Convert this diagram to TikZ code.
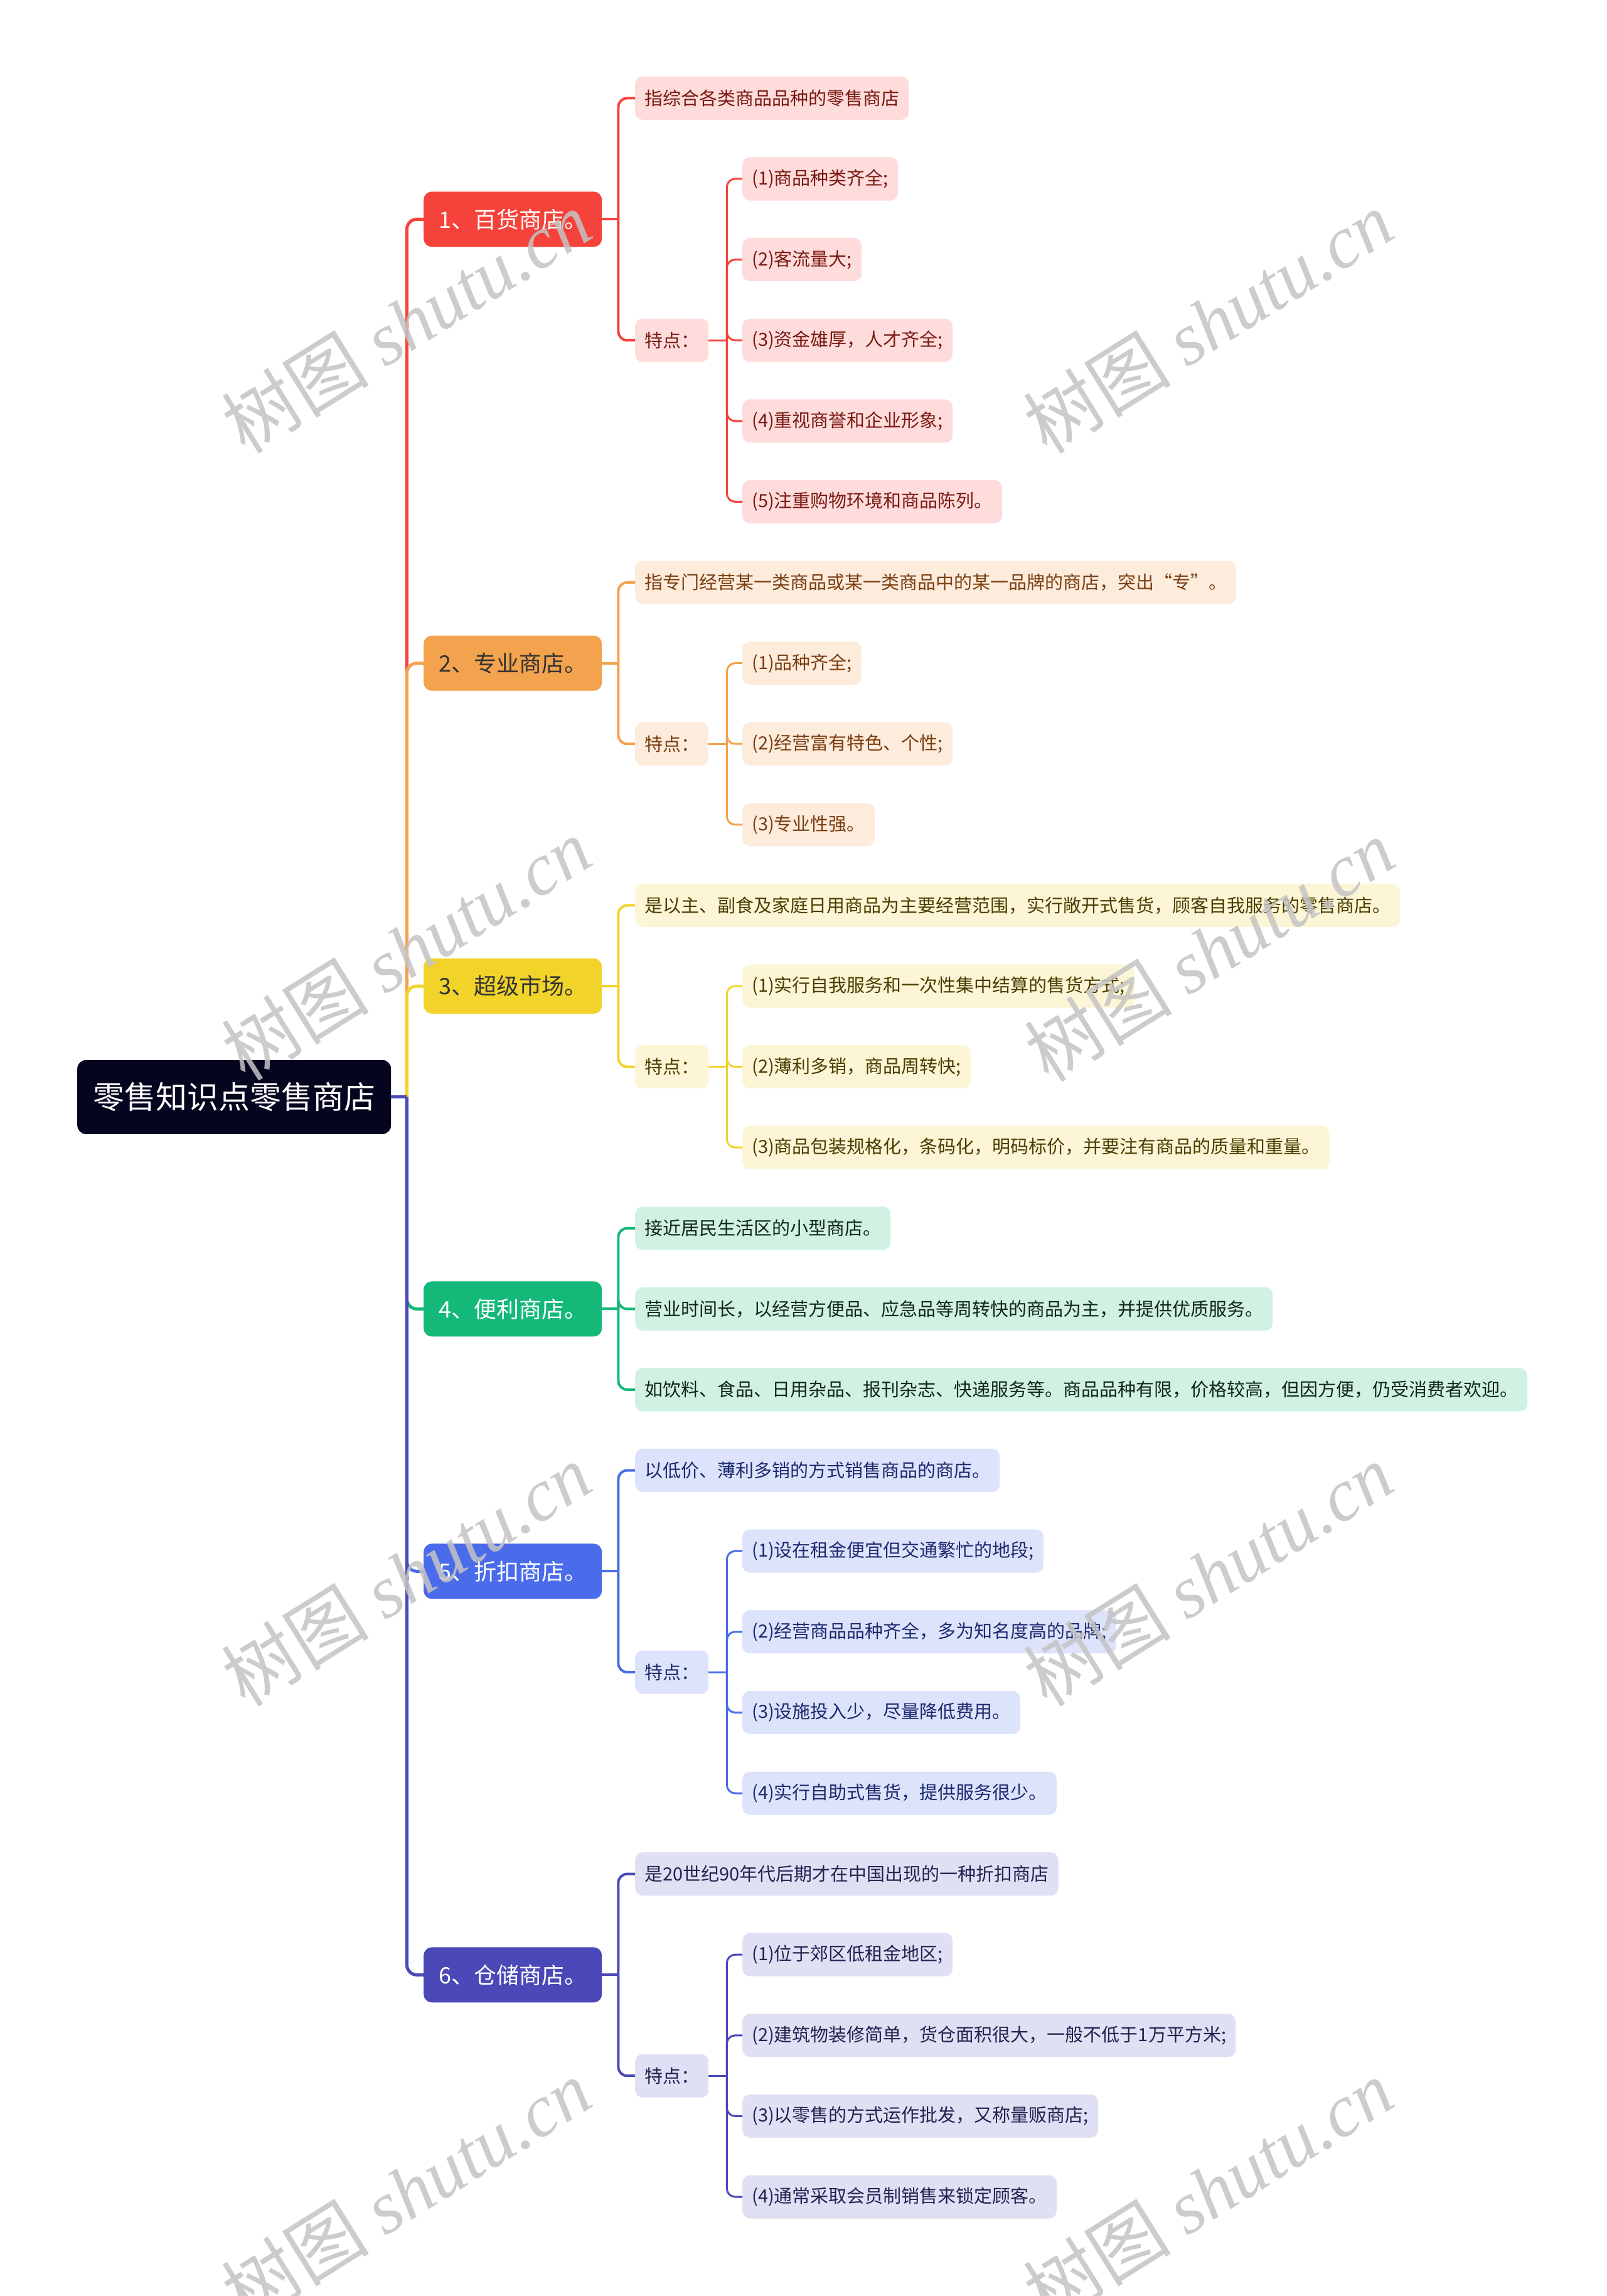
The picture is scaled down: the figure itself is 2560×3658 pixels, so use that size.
\documentclass[tikz,border=0pt]{standalone}
\usepackage{fontspec}
\setmainfont{Noto Sans CJK SC}
\newfontfamily\wmserif{Liberation Serif}
\definecolor{rootc}{HTML}{05051F}
\definecolor{c1}{HTML}{F5433B}
\definecolor{c2}{HTML}{F3A24E}
\definecolor{c3}{HTML}{F1D32A}
\definecolor{c4}{HTML}{14B97A}
\definecolor{c5}{HTML}{4A6CEA}
\definecolor{c6}{HTML}{4B48B8}
\definecolor{f1}{HTML}{FDDCDB}
\definecolor{f2}{HTML}{FDEBDC}
\definecolor{f3}{HTML}{FCF6D6}
\definecolor{f4}{HTML}{D1F2E3}
\definecolor{f5}{HTML}{DCE3FB}
\definecolor{f6}{HTML}{E0E0F4}
\definecolor{t1}{HTML}{7A1812}
\definecolor{t2}{HTML}{7A3E10}
\definecolor{t3}{HTML}{4A3D00}
\definecolor{t4}{HTML}{10261C}
\definecolor{t5}{HTML}{1C2A6E}
\definecolor{t6}{HTML}{222250}
\definecolor{wmc}{HTML}{C4C4C4}
\tikzset{
  rootbox/.style={fill=rootc, text=white, rounded corners=14pt, anchor=west,
    minimum height=118pt, minimum width=500pt, inner xsep=25pt, inner ysep=0pt,
    font=\fontsize{50}{60}\selectfont},
  lone/.style={fill=c#1, rounded corners=13pt, anchor=west, minimum height=88pt,
    minimum width=284pt, inner xsep=18pt, inner ysep=0pt,
    font=\fontsize{36}{42}\selectfont},
  lt/.style={fill=f#1, text=t#1, rounded corners=12pt, anchor=west,
    minimum height=69pt, inner xsep=15pt, inner ysep=0pt,
    font=\fontsize{29}{34}\selectfont},
  trunk/.style={draw=c#1, line width=5pt},
  ltwoline/.style={draw=c#1, line width=4pt},
  lthreeline/.style={draw=c#1, line width=3pt},
  wm/.style={text=wmc, opacity=0.85, rotate=32, font=\fontsize{118}{130}\selectfont}
}
\begin{document}
\begin{tikzpicture}[x=1pt,y=-1pt]
\fill[white] (0,0) rectangle (2560,3658);
\useasboundingbox (0,0) rectangle (2560,3658);

% root
\node[rootbox] (root) at (123,1747.8) {零售知识点零售商店};
\coordinate (rj) at ([xshift=25pt]root.east);

% ---------- branch 1
\node[lone=1, text=white] (n1) at (675,349.3) {1、百货商店。};
\node[lt=1] (n1a) at (1012,156.4) {指综合各类商品品种的零售商店};
\node[lt=1] (n1t) at (1012,542.2) {特点：};
\node[lt=1] (n1t1) at (1183,285.0) {(1)商品种类齐全;};
\node[lt=1] (n1t2) at (1183,413.6) {(2)客流量大;};
\node[lt=1] (n1t3) at (1183,542.2) {(3)资金雄厚，人才齐全;};
\node[lt=1] (n1t4) at (1183,670.8) {(4)重视商誉和企业形象;};
\node[lt=1] (n1t5) at (1183,799.4) {(5)注重购物环境和商品陈列。};

% ---------- branch 2
\node[lone=2, text=black!80] (n2) at (675,1056.6) {2、专业商店。};
\node[lt=2] (n2a) at (1012,928.0) {指专门经营某一类商品或某一类商品中的某一品牌的商店，突出“专”。};
\node[lt=2] (n2t) at (1012,1185.2) {特点：};
\node[lt=2] (n2t1) at (1183,1056.6) {(1)品种齐全;};
\node[lt=2] (n2t2) at (1183,1185.2) {(2)经营富有特色、个性;};
\node[lt=2] (n2t3) at (1183,1313.8) {(3)专业性强。};

% ---------- branch 3
\node[lone=3, text=black!80] (n3) at (675,1571.0) {3、超级市场。};
\node[lt=3] (n3a) at (1012,1442.4) {是以主、副食及家庭日用商品为主要经营范围，实行敞开式售货，顾客自我服务的零售商店。};
\node[lt=3] (n3t) at (1012,1699.6) {特点：};
\node[lt=3] (n3t1) at (1183,1571.0) {(1)实行自我服务和一次性集中结算的售货方式;};
\node[lt=3] (n3t2) at (1183,1699.6) {(2)薄利多销，商品周转快;};
\node[lt=3] (n3t3) at (1183,1828.2) {(3)商品包装规格化，条码化，明码标价，并要注有商品的质量和重量。};

% ---------- branch 4
\node[lone=4, text=white] (n4) at (675,2085.4) {4、便利商店。};
\node[lt=4] (n4a) at (1012,1956.8) {接近居民生活区的小型商店。};
\node[lt=4] (n4b) at (1012,2085.4) {营业时间长，以经营方便品、应急品等周转快的商品为主，并提供优质服务。};
\node[lt=4] (n4c) at (1012,2214.0) {如饮料、食品、日用杂品、报刊杂志、快递服务等。商品品种有限，价格较高，但因方便，仍受消费者欢迎。};

% ---------- branch 5
\node[lone=5, text=white] (n5) at (675,2503.35) {5、折扣商店。};
\node[lt=5] (n5a) at (1012,2342.6) {以低价、薄利多销的方式销售商品的商店。};
\node[lt=5] (n5t) at (1012,2664.1) {特点：};
\node[lt=5] (n5t1) at (1183,2471.2) {(1)设在租金便宜但交通繁忙的地段;};
\node[lt=5] (n5t2) at (1183,2599.8) {(2)经营商品品种齐全，多为知名度高的品牌;};
\node[lt=5] (n5t3) at (1183,2728.4) {(3)设施投入少，尽量降低费用。};
\node[lt=5] (n5t4) at (1183,2857.0) {(4)实行自助式售货，提供服务很少。};

% ---------- branch 6
\node[lone=6, text=white] (n6) at (675,3146.35) {6、仓储商店。};
\node[lt=6] (n6a) at (1012,2985.6) {是20世纪90年代后期才在中国出现的一种折扣商店};
\node[lt=6] (n6t) at (1012,3307.1) {特点：};
\node[lt=6] (n6t1) at (1183,3114.2) {(1)位于郊区低租金地区;};
\node[lt=6] (n6t2) at (1183,3242.8) {(2)建筑物装修简单，货仓面积很大，一般不低于1万平方米;};
\node[lt=6] (n6t3) at (1183,3371.4) {(3)以零售的方式运作批发，又称量贩商店;};
\node[lt=6] (n6t4) at (1183,3500.0) {(4)通常采取会员制销售来锁定顾客。};

% junction coordinates
\foreach \i in {1,...,6} {
  \coordinate (j\i) at ([xshift=26pt]n\i.east);
}
\foreach \i in {1,2,3,5,6} {
  \coordinate (k\i) at ([xshift=29pt]n\i t.east);
}

% ---------- connectors (drawn in branch order)
\foreach \i in {1,...,6} {
  \draw[trunk=\i] (root.east) -- (rj);
  \draw[trunk=\i, rounded corners=16pt] (rj) |- (n\i.west);
}
% branch 1
\draw[ltwoline=1] (n1.east) -- (j1);
\foreach \c in {n1a,n1t} \draw[ltwoline=1, rounded corners=14pt] (j1) |- (\c.west);
\draw[lthreeline=1] (n1t.east) -- (k1);
\foreach \c in {n1t1,n1t2,n1t3,n1t4,n1t5} \draw[lthreeline=1, rounded corners=13pt] (k1) |- (\c.west);
% branch 2
\draw[ltwoline=2] (n2.east) -- (j2);
\foreach \c in {n2a,n2t} \draw[ltwoline=2, rounded corners=14pt] (j2) |- (\c.west);
\draw[lthreeline=2] (n2t.east) -- (k2);
\foreach \c in {n2t1,n2t2,n2t3} \draw[lthreeline=2, rounded corners=13pt] (k2) |- (\c.west);
% branch 3
\draw[ltwoline=3] (n3.east) -- (j3);
\foreach \c in {n3a,n3t} \draw[ltwoline=3, rounded corners=14pt] (j3) |- (\c.west);
\draw[lthreeline=3] (n3t.east) -- (k3);
\foreach \c in {n3t1,n3t2,n3t3} \draw[lthreeline=3, rounded corners=13pt] (k3) |- (\c.west);
% branch 4
\draw[ltwoline=4] (n4.east) -- (j4);
\foreach \c in {n4a,n4b,n4c} \draw[ltwoline=4, rounded corners=14pt] (j4) |- (\c.west);
% branch 5
\draw[ltwoline=5] (n5.east) -- (j5);
\foreach \c in {n5a,n5t} \draw[ltwoline=5, rounded corners=14pt] (j5) |- (\c.west);
\draw[lthreeline=5] (n5t.east) -- (k5);
\foreach \c in {n5t1,n5t2,n5t3,n5t4} \draw[lthreeline=5, rounded corners=13pt] (k5) |- (\c.west);
% branch 6
\draw[ltwoline=6] (n6.east) -- (j6);
\foreach \c in {n6a,n6t} \draw[ltwoline=6, rounded corners=14pt] (j6) |- (\c.west);
\draw[lthreeline=6] (n6t.east) -- (k6);
\foreach \c in {n6t1,n6t2,n6t3,n6t4} \draw[lthreeline=6, rounded corners=13pt] (k6) |- (\c.west);

% ---------- watermarks
\foreach \wx/\wy [count=\w] in {647/513, 1925/513, 647/1512, 1927/1514, 647/2509, 1925/2509, 647/3490, 1925/3490} {
  \node[wm] (wm\w) at (\wx,\wy) {树图 {\wmserif\itshape shutu.cn}};
}
\end{tikzpicture}
\end{document}
